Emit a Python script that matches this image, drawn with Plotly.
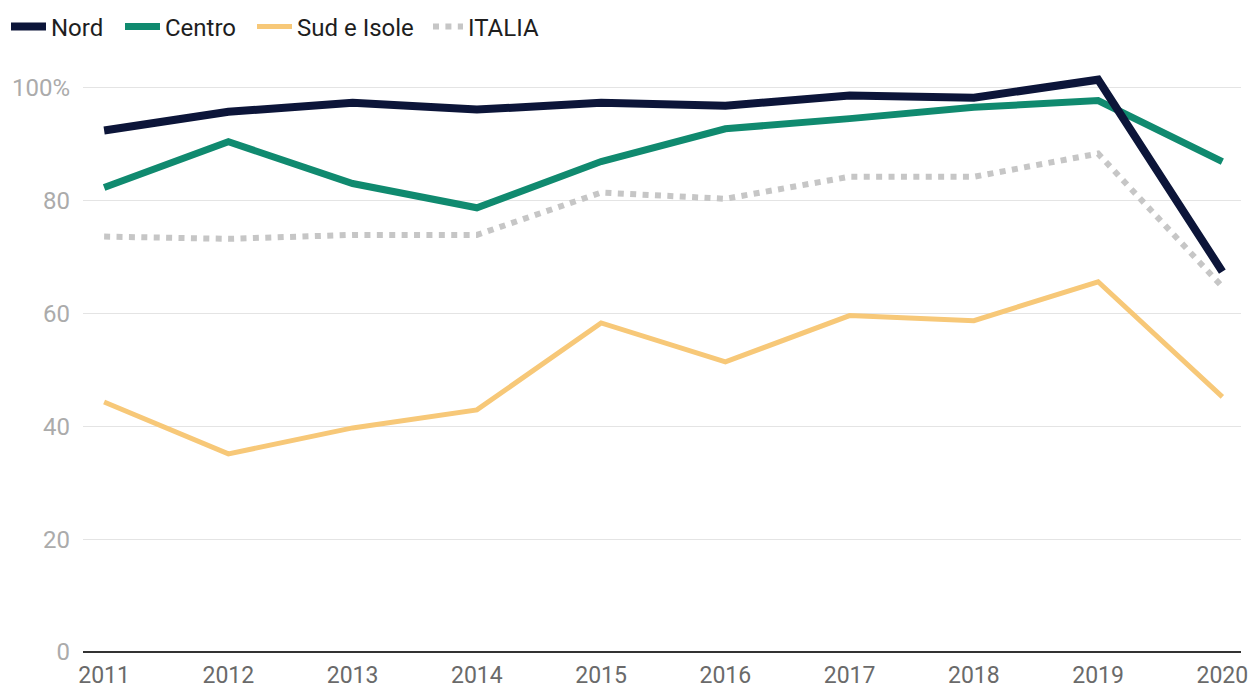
import plotly.graph_objects as go

years = [2011, 2012, 2013, 2014, 2015, 2016, 2017, 2018, 2019, 2020]
nord = [92.4, 95.7, 97.3, 96.1, 97.3, 96.8, 98.6, 98.2, 101.4, 67.4]
centro = [82.3, 90.4, 83.0, 78.7, 86.9, 92.7, 94.5, 96.5, 97.7, 86.9]
sud = [44.3, 35.1, 39.7, 42.9, 58.3, 51.4, 59.6, 58.7, 65.6, 45.2]
italia = [73.6, 73.2, 73.9, 73.9, 81.4, 80.3, 84.2, 84.2, 88.3, 64.7]
y_ticks = [0, 20, 40, 60, 80, 100]
y_labels = ["0", "20", "40", "60", "80", "100%"]

W, H = 1252, 689

fig = go.Figure()
fig.add_trace(go.Scatter(x=years, y=italia, name="ITALIA", mode="lines",
                         line=dict(color="#c6c6c6", width=6, dash="6px,6.4px"), legend="legend4"))
fig.add_trace(go.Scatter(x=years, y=sud, name="Sud e Isole", mode="lines",
                         line=dict(color="#f7c878", width=5), legend="legend3"))
fig.add_trace(go.Scatter(x=years, y=centro, name="Centro", mode="lines",
                         line=dict(color="#108a6f", width=7), legend="legend2"))
fig.add_trace(go.Scatter(x=years, y=nord, name="Nord", mode="lines",
                         line=dict(color="#0c1539", width=8), legend="legend"))


def leg(xpx, iw=35):
    return dict(orientation="h", xref="container", x=xpx / W, xanchor="left",
                yref="container", y=1 - 27 / H, yanchor="middle",
                font=dict(size=24, color="#1e1e1e"), itemwidth=iw,
                bgcolor="rgba(0,0,0,0)")


fig.update_layout(
    width=W, height=H,
    margin=dict(l=83, r=11, t=65, b=37, autoexpand=False),
    paper_bgcolor="white", plot_bgcolor="white",
    font=dict(family="Roboto", size=24, color="#555555"),
    showlegend=True,
    legend=leg(6), legend2=leg(120), legend3=leg(252), legend4=leg(428, 30),
    xaxis=dict(range=[2010.83, 2020.15], tickmode="array", tickvals=years,
               ticktext=[str(y) for y in years], showgrid=False, zeroline=False,
               showline=False, ticks="", tickfont=dict(size=23, color="#6a6a6a"),
               ticklabelstandoff=7, automargin=False),
    yaxis=dict(range=[0, 104], tickmode="array", tickvals=y_ticks, ticktext=y_labels,
               showgrid=True, gridcolor="#e4e4e4", gridwidth=1, zeroline=True,
               zerolinecolor="#333333", zerolinewidth=2, showline=False, ticks="",
               tickfont=dict(size=24, color="#ababab"), ticklabelstandoff=12,
               automargin=False),
)
fig.write_html("out.html", config={"displayModeBar": False},
               post_script="document.body.style.margin='0';")
